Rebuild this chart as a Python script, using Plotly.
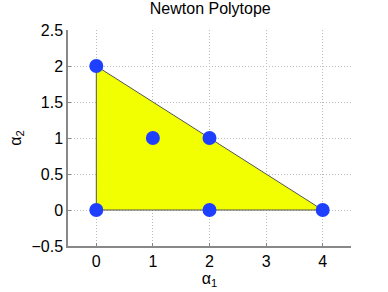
import plotly.graph_objects as go

poly_x = [0, 4, 0, 0]
poly_y = [0, 0, 2, 0]
pts_x = [0, 0, 1, 2, 2, 4]
pts_y = [0, 2, 1, 1, 0, 0]
x_ticks = [0, 1, 2, 3, 4]
y_ticks = [-0.5, 0, 0.5, 1, 1.5, 2, 2.5]
y_tick_text = ["\u22120.5", "0", "0.5", "1", "1.5", "2", "2.5"]

fam = "Liberation Sans, Arial, sans-serif"
tickfont = dict(family=fam, size=16, color="black")
labfont = dict(family=fam, size=16, color="black")

fig = go.Figure()
fig.add_trace(go.Scatter(x=poly_x, y=poly_y, mode="lines", fill="toself",
                         fillcolor="#f2ff00", line=dict(color="#555555", width=1),
                         hoverinfo="skip"))
fig.add_trace(go.Scatter(x=pts_x, y=pts_y, mode="markers",
                         marker=dict(color="#1f3fff", size=14,
                                     line=dict(color="#1f3fff", width=0))))

fig.update_layout(
    width=388, height=292,
    margin=dict(l=68, r=37, t=30, b=46, autoexpand=False),
    paper_bgcolor="white", plot_bgcolor="white",
    showlegend=False,
    font=tickfont,
    title=dict(text="Newton Polytope", x=0.542, xanchor="center", y=0.97, yanchor="middle",
               font=dict(family=fam, size=16, color="black")),
    xaxis=dict(range=[-0.5, 4.5], tickvals=x_ticks, showgrid=True, gridcolor="#bbbbbb",
               griddash="1px,2px", gridwidth=1, zeroline=False, showline=True, linecolor="#888888",
               linewidth=1.5, ticks="inside", ticklen=3, tickcolor="#888888",
               automargin=False,
               title=dict(text="\u03b1<sub>1</sub>", standoff=0, font=labfont),
               tickfont=tickfont),
    yaxis=dict(range=[-0.5, 2.5], tickvals=y_ticks, ticktext=y_tick_text, showgrid=True,
               gridcolor="#bbbbbb", griddash="1px,2px", gridwidth=1, zeroline=False,
               showline=True, linecolor="#888888", linewidth=1.5, ticks="inside",
               ticklen=3, tickcolor="#888888", automargin=False,
               title=dict(text="\u03b1<sub>2</sub>", standoff=6, font=labfont),
               tickfont=tickfont),
)
fig.write_html("out.html", config={"displayModeBar": False},
               post_script="document.body.style.margin='0';")
